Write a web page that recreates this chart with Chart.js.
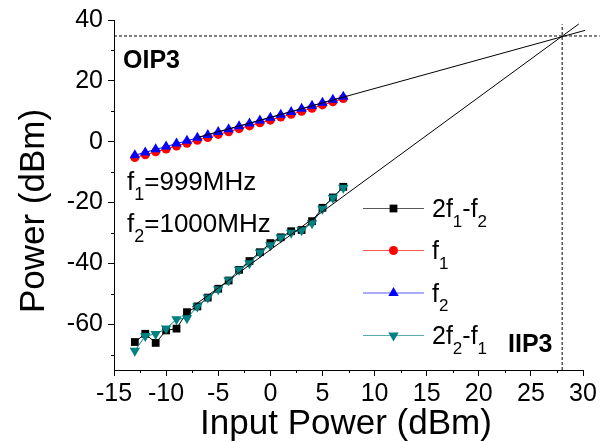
<!DOCTYPE html>
<html>
<head>
<meta charset="utf-8">
<script src="https://cdn.jsdelivr.net/npm/chart.js@4.4.1/dist/chart.umd.min.js"></script>
<style>
  html, body { margin: 0; padding: 0; background: #fff; }
</style>
</head>
<body>
<canvas id="ip3Chart" width="608" height="442"></canvas>
<script>
// ---- measured data ----
const inputPower = [-13, -12, -11, -10, -9, -8, -7, -6, -5, -4, -3, -2, -1, 0, 1, 2, 3, 4, 5, 6, 7];
const f1Power = [-5.2, -4.3, -3.3, -2.4, -1.4, -0.5, 0.5, 1.4, 2.4, 3.3, 4.3, 5.2, 6.2, 7.1, 8.1, 9.0, 10.0, 11.0, 12.1, 13.1, 14.2];
const f2Power = [-4.4, -3.5, -2.5, -1.6, -0.6, 0.3, 1.3, 2.2, 3.2, 4.1, 5.1, 6.0, 7.0, 7.9, 8.9, 9.8, 10.8, 11.8, 12.8, 13.8, 14.8];
const im3Low = [-65.8, -63.1, -66.1, -62.0, -61.4, -56.0, -54.1, -51.2, -48.3, -45.6, -42.1, -39.2, -36.3, -33.3, -31.4, -29.4, -29.0, -26.1, -21.7, -18.3, -14.8];
const im3High = [-68.7, -63.8, -63.2, -61.4, -58.3, -58.0, -54.1, -51.2, -48.5, -45.5, -42.1, -39.9, -36.4, -34.0, -31.5, -29.9, -29.1, -26.8, -22.0, -18.4, -15.1];
const seriesNames = ['2f1-f2', 'f1', 'f2', '2f2-f1'];

// linear fits, extrapolated past the intercept
const fundFitX = [-7, 30.2];
const fundFitY = [1.4, 36.6];
const im3FitX = [-7.5, 29.6];
const im3FitY = [-54.3, 38.7];

// third-order intercept (IIP3, OIP3)
const iip3 = 28;
const oip3 = 34.75;
const oipLineX = [-15, 31.6];
const iipLineY = [-75, 38.6];

// axes
const xRange = [-15, 30];
const yRange = [-75, 40];
const xTicks = [-15, -10, -5, 0, 5, 10, 15, 20, 25, 30];
const xMinorTicks = [-12.5, -7.5, -2.5, 2.5, 7.5, 12.5, 17.5, 22.5, 27.5];
const yTicks = [-60, -40, -20, 0, 20, 40];
const yMinorTicks = [-70, -50, -30, -10, 10, 30];

const FONT = "'Liberation Sans', Arial, Helvetica, sans-serif";
const pts = (xs, ys) => xs.map((x, i) => ({ x: x, y: ys[i] }));

// digit right after an "f" is a subscript (f1, 2f2-f1 ...)
function richParts(str) {
  const parts = [];
  let buf = '';
  for (let i = 0; i < str.length; i++) {
    const c = str[i];
    if (/\d/.test(c) && i > 0 && str[i - 1] === 'f') {
      if (buf) parts.push([buf, false]);
      parts.push([c, true]);
      buf = '';
    } else buf += c;
  }
  if (buf) parts.push([buf, false]);
  return parts;
}

function drawRich(ctx, str, x, y, size, bold) {
  richParts(str).forEach(([t, sub]) => {
    const s = sub ? Math.round(size * 0.68) : size;
    ctx.font = (bold ? 'bold ' : '') + s + 'px ' + FONT;
    ctx.fillText(t, x, sub ? y + size * 0.38 : y);
    x += ctx.measureText(t).width;
  });
}

function drawMarker(ctx, style, r, rot, x, y) {
  ctx.beginPath();
  if (style === 'rect') {
    const s = r * Math.SQRT1_2;
    ctx.rect(x - s, y - s, 2 * s, 2 * s);
  } else if (style === 'circle') {
    ctx.arc(x, y, r, 0, Math.PI * 2);
  } else {
    const d = rot === 180 ? -1 : 1;
    ctx.moveTo(x, y - d * r);
    ctx.lineTo(x + r * 0.866, y + d * r / 2);
    ctx.lineTo(x - r * 0.866, y + d * r / 2);
    ctx.closePath();
  }
  ctx.fill();
}

// minor ticks on both axes
const minorTicks = {
  id: 'minorTicks',
  afterDraw(chart) {
    const { ctx, chartArea: a, scales: { x, y } } = chart;
    ctx.save();
    ctx.strokeStyle = '#000';
    ctx.lineWidth = 1;
    ctx.beginPath();
    xMinorTicks.forEach(v => {
      const px = Math.round(x.getPixelForValue(v)) + 0.5;
      ctx.moveTo(px, a.bottom); ctx.lineTo(px, a.bottom + 3);
    });
    yMinorTicks.forEach(v => {
      const py = Math.round(y.getPixelForValue(v)) + 0.5;
      ctx.moveTo(a.left, py); ctx.lineTo(a.left - 3, py);
    });
    ctx.stroke();
    ctx.restore();
  }
};

// text labels, legend, axis titles
const annotations = {
  id: 'annotations',
  afterDraw(chart) {
    const ctx = chart.ctx;
    ctx.save();
    ctx.fillStyle = '#000';
    ctx.textBaseline = 'alphabetic';
    ctx.textAlign = 'left';

    drawRich(ctx, 'OIP3', 123, 68, 25, true);
    drawRich(ctx, 'IIP3', 508, 352, 25, true);
    drawRich(ctx, 'f1=999MHz', 127, 190, 26, false);
    drawRich(ctx, 'f2=1000MHz', 127, 232, 26, false);

    // legend
    const rows = [208, 250, 292.5, 335];
    seriesNames.forEach((name, i) => {
      const ds = chart.data.datasets.find(d => d.label === name);
      const y = rows[i];
      ctx.strokeStyle = ds.borderColor;
      ctx.globalAlpha = 0.65;
      ctx.lineWidth = 1;
      ctx.beginPath();
      ctx.moveTo(363, y + 0.5); ctx.lineTo(424, y + 0.5);
      ctx.stroke();
      ctx.globalAlpha = 1;
      ctx.fillStyle = ds.pointBackgroundColor;
      drawMarker(ctx, ds.pointStyle, ds.pointRadius, ds.pointRotation || 0, 393.5, y + 0.5);
      ctx.fillStyle = '#000';
      drawRich(ctx, name, 432, y + 9, 25, false);
    });

    // axis titles
    ctx.font = '35px ' + FONT;
    ctx.textAlign = 'center';
    ctx.textBaseline = 'alphabetic';
    ctx.fillText('Input Power (dBm)', 346, 434);
    ctx.translate(44, 211);
    ctx.rotate(-Math.PI / 2);
    ctx.fillText('Power (dBm)', 0, 0);
    ctx.restore();
  }
};

const dashed = { borderColor: '#000', borderWidth: 1, borderDash: [3, 2], pointRadius: 0, showLine: true, clip: false };
const fit = { borderColor: '#000', borderWidth: 1, pointRadius: 0, showLine: true, clip: false };

new Chart(document.getElementById('ip3Chart'), {
  type: 'scatter',
  data: {
    datasets: [
      { ...fit, label: 'fund fit', data: pts(fundFitX, fundFitY), order: 0 },
      { ...fit, label: 'im3 fit', data: pts(im3FitX, im3FitY), order: 0 },
      { ...dashed, label: 'oip3', data: pts(oipLineX, [oip3, oip3]), order: 6 },
      { ...dashed, label: 'iip3', data: pts([iip3, iip3], iipLineY), order: 6 },
      {
        label: seriesNames[3], data: pts(inputPower, im3High), order: 1, showLine: true,
        borderColor: '#008080', borderWidth: 1, pointBackgroundColor: '#008080',
        pointStyle: 'triangle', pointRotation: 180, pointRadius: 6, pointBorderWidth: 0
      },
      {
        label: seriesNames[0], data: pts(inputPower, im3Low), order: 2, showLine: true,
        borderColor: '#000', borderWidth: 1, pointBackgroundColor: '#000',
        pointStyle: 'rect', pointRadius: 5.5, pointBorderWidth: 0
      },
      {
        label: seriesNames[2], data: pts(inputPower, f2Power), order: 3, showLine: true,
        borderColor: '#0000ff', borderWidth: 1, pointBackgroundColor: '#0000ff',
        pointStyle: 'triangle', pointRadius: 6, pointBorderWidth: 0
      },
      {
        label: seriesNames[1], data: pts(inputPower, f1Power), order: 4, showLine: true,
        borderColor: '#ff0000', borderWidth: 1, pointBackgroundColor: '#ff0000',
        pointStyle: 'circle', pointRadius: 4.5, pointBorderWidth: 0
      }
    ]
  },
  options: {
    responsive: false,
    animation: false,
    devicePixelRatio: 1,
    layout: { padding: { top: 19, right: 25, left: 0, bottom: 0 } },
    plugins: { legend: { display: false }, tooltip: { enabled: false } },
    scales: {
      x: {
        type: 'linear', min: xRange[0], max: xRange[1],
        afterBuildTicks: s => { s.ticks = xTicks.map(v => ({ value: v })); },
        afterFit: s => { s.height = 72; },
        grid: { drawOnChartArea: false, tickLength: 6, color: '#000', tickColor: '#000' },
        border: { color: '#000', width: 1 },
        ticks: { color: '#000', padding: 3, maxRotation: 0, font: { family: FONT, size: 25 } }
      },
      y: {
        type: 'linear', min: yRange[0], max: yRange[1],
        afterBuildTicks: s => { s.ticks = yTicks.map(v => ({ value: v })); },
        afterFit: s => { s.width = 114; },
        grid: { drawOnChartArea: false, tickLength: 6, color: '#000', tickColor: '#000' },
        border: { color: '#000', width: 1 },
        ticks: { color: '#000', padding: 5, font: { family: FONT, size: 25 } }
      }
    }
  },
  plugins: [minorTicks, annotations]
});
</script>
</body>
</html>
